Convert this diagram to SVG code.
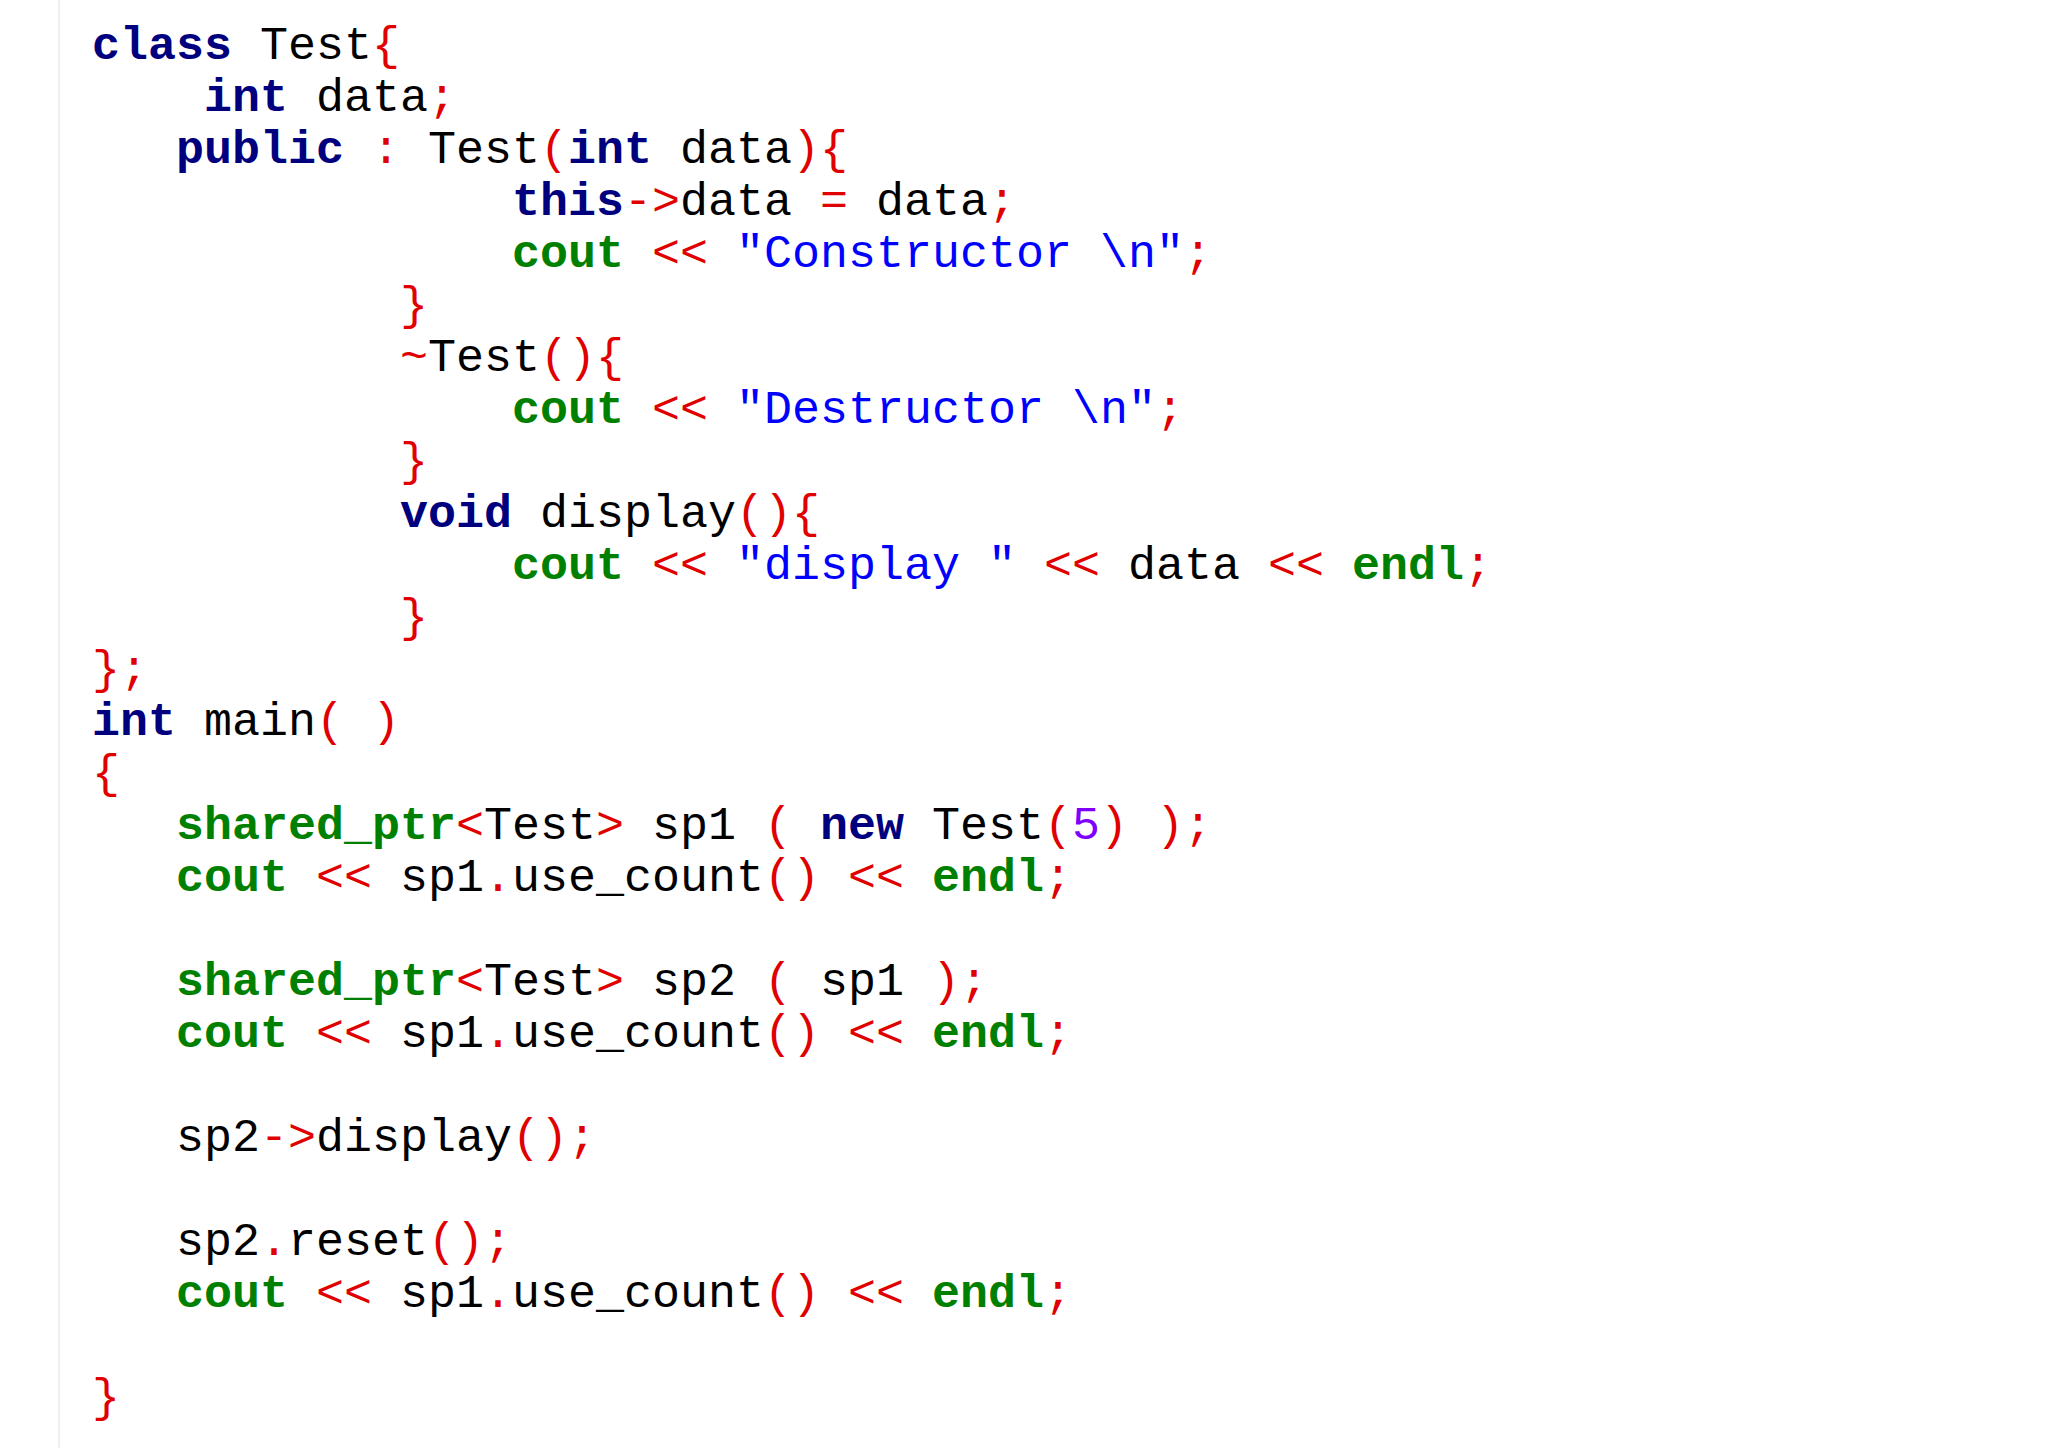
<svg xmlns="http://www.w3.org/2000/svg" width="2048" height="1448" viewBox="0 0 2048 1448">
<style>
text{font-family:"Liberation Mono","Courier New",monospace;font-size:46.67px;fill:#000;white-space:pre}
.k{fill:#00007f;font-weight:bold}
.g{fill:#008000;font-weight:bold}
.r{fill:#e00000}
.s{fill:#0000ff}
.n{fill:#8000ff}
</style>
<rect width="2048" height="1448" fill="#fff"/>
<line x1="59" y1="0" x2="59" y2="1448" stroke="#f0f0f0" stroke-width="2"/>
<g id="code" xml:space="preserve">
<text x="92" y="59"><tspan class="k">class</tspan> Test<tspan class="r">{</tspan></text>
<text x="92" y="111">    <tspan class="k">int</tspan> data<tspan class="r">;</tspan></text>
<text x="92" y="163">   <tspan class="k">public</tspan> <tspan class="r">:</tspan> Test<tspan class="r">(</tspan><tspan class="k">int</tspan> data<tspan class="r">){</tspan></text>
<text x="92" y="215">               <tspan class="k">this</tspan><tspan class="r">-&gt;</tspan>data <tspan class="r">=</tspan> data<tspan class="r">;</tspan></text>
<text x="92" y="267">               <tspan class="g">cout</tspan> <tspan class="r">&lt;&lt;</tspan> <tspan class="s">"Constructor \n"</tspan><tspan class="r">;</tspan></text>
<text x="92" y="319">           <tspan class="r">}</tspan></text>
<text x="92" y="371">           <tspan class="r">~</tspan>Test<tspan class="r">(){</tspan></text>
<text x="92" y="423">               <tspan class="g">cout</tspan> <tspan class="r">&lt;&lt;</tspan> <tspan class="s">"Destructor \n"</tspan><tspan class="r">;</tspan></text>
<text x="92" y="475">           <tspan class="r">}</tspan></text>
<text x="92" y="527">           <tspan class="k">void</tspan> display<tspan class="r">(){</tspan></text>
<text x="92" y="579">               <tspan class="g">cout</tspan> <tspan class="r">&lt;&lt;</tspan> <tspan class="s">"display "</tspan> <tspan class="r">&lt;&lt;</tspan> data <tspan class="r">&lt;&lt;</tspan> <tspan class="g">endl</tspan><tspan class="r">;</tspan></text>
<text x="92" y="631">           <tspan class="r">}</tspan></text>
<text x="92" y="683"><tspan class="r">};</tspan></text>
<text x="92" y="735"><tspan class="k">int</tspan> main<tspan class="r">( )</tspan></text>
<text x="92" y="787"><tspan class="r">{</tspan></text>
<text x="92" y="839">   <tspan class="g">shared_ptr</tspan><tspan class="r">&lt;</tspan>Test<tspan class="r">&gt;</tspan> sp1 <tspan class="r">(</tspan> <tspan class="k">new</tspan> Test<tspan class="r">(</tspan><tspan class="n">5</tspan><tspan class="r">)</tspan> <tspan class="r">);</tspan></text>
<text x="92" y="891">   <tspan class="g">cout</tspan> <tspan class="r">&lt;&lt;</tspan> sp1<tspan class="r">.</tspan>use_count<tspan class="r">()</tspan> <tspan class="r">&lt;&lt;</tspan> <tspan class="g">endl</tspan><tspan class="r">;</tspan></text>
<text x="92" y="995">   <tspan class="g">shared_ptr</tspan><tspan class="r">&lt;</tspan>Test<tspan class="r">&gt;</tspan> sp2 <tspan class="r">(</tspan> sp1 <tspan class="r">);</tspan></text>
<text x="92" y="1047">   <tspan class="g">cout</tspan> <tspan class="r">&lt;&lt;</tspan> sp1<tspan class="r">.</tspan>use_count<tspan class="r">()</tspan> <tspan class="r">&lt;&lt;</tspan> <tspan class="g">endl</tspan><tspan class="r">;</tspan></text>
<text x="92" y="1151">   sp2<tspan class="r">-&gt;</tspan>display<tspan class="r">();</tspan></text>
<text x="92" y="1255">   sp2<tspan class="r">.</tspan>reset<tspan class="r">();</tspan></text>
<text x="92" y="1307">   <tspan class="g">cout</tspan> <tspan class="r">&lt;&lt;</tspan> sp1<tspan class="r">.</tspan>use_count<tspan class="r">()</tspan> <tspan class="r">&lt;&lt;</tspan> <tspan class="g">endl</tspan><tspan class="r">;</tspan></text>
<text x="92" y="1411"><tspan class="r">}</tspan></text>
</g>
</svg>
